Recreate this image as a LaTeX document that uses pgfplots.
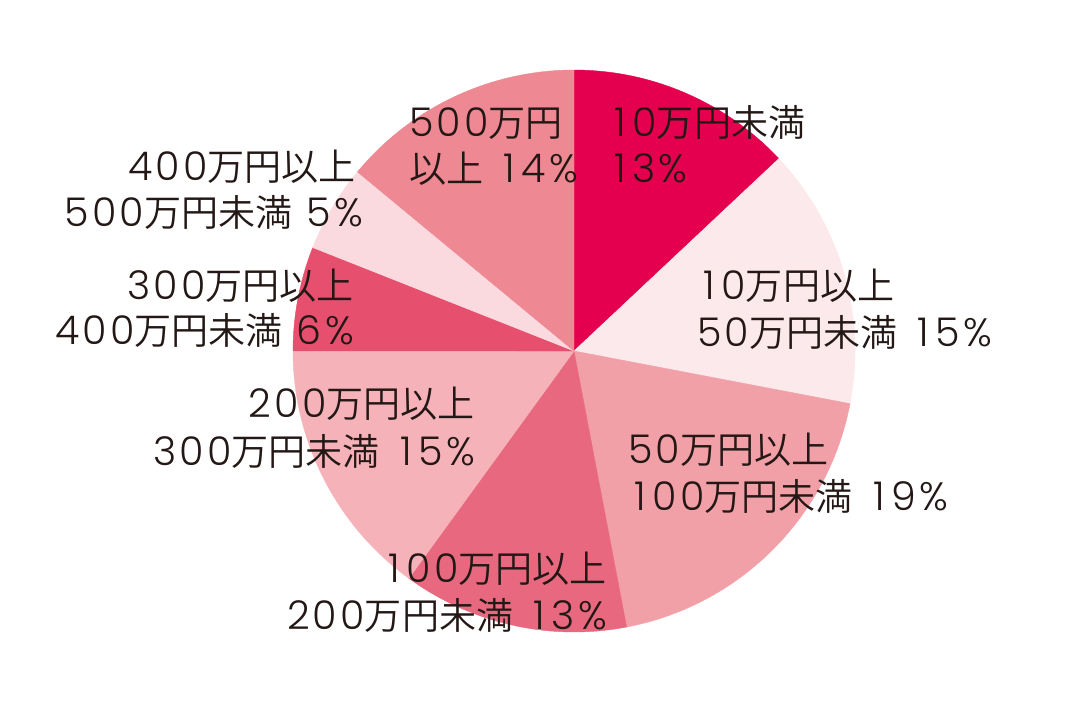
\documentclass[border=0pt]{standalone}
\usepackage{fontspec}
\IfFontExistsTF{Poppins Light}
  {\setmainfont{Poppins Light}[Scale=1.1, Numbers=Monospaced, LetterSpace=8]}
  {\setmainfont{Poppins}[Scale=1.1, Numbers=Monospaced, LetterSpace=8]}
\IfFontExistsTF{Noto Sans CJK JP DemiLight}
  {\newfontfamily\jp{Noto Sans CJK JP DemiLight}[Scale=1.03]}
  {\newfontfamily\jp{Noto Sans CJK JP}[Scale=1.03]}
% tabular "1": as wide as a "0"
\newcommand\one{\hbox to \fontcharwd\font`0{\hss 1\hss}}
\usepackage{pgfplots}
\pgfplotsset{compat=1.18}
\usepackage{pgfplotstable}

\definecolor{s1}{HTML}{E4004F}
\definecolor{s2}{HTML}{FCE9EB}
\definecolor{s3}{HTML}{F2A0A8}
\definecolor{s4}{HTML}{E8697F}
\definecolor{s5}{HTML}{F5B3B9}
\definecolor{s6}{HTML}{E74F6E}
\definecolor{s7}{HTML}{FADADF}
\definecolor{s8}{HTML}{EE8892}
\definecolor{ink}{HTML}{231815}

\tikzset{lab/.style={inner sep=0pt, text=ink, font=\fontsize{36bp}{44bp}\selectfont}}

% shares in percent, clockwise from 12 o'clock
\pgfplotstableread{
share col
13 s1
15 s2
19 s3
13 s4
15 s5
6  s6
5  s7
14 s8
}\pietable

\begin{document}
\begin{tikzpicture}
\begin{axis}[
  width=1084bp, height=709bp, scale only axis,
  xmin=0, xmax=1084, ymin=0, ymax=709, y dir=reverse,
  hide axis, clip=false,
]
\addplot[draw=none] coordinates {(0,0) (1084,709)};

\def\cum{0}
\pgfplotsforeachungrouped \i in {0,...,7}{%
  \pgfplotstablegetelem{\i}{share}\of\pietable \let\share\pgfplotsretval
  \pgfplotstablegetelem{\i}{col}\of\pietable \let\col\pgfplotsretval
  \pgfmathsetmacro\a{90-3.6*\cum}%
  \pgfmathsetmacro\b{90-3.6*(\cum+\share)}%
  \edef\temp{\noexpand\addplot[fill=\col, draw=\col, line width=0.4pt,
      domain=\b:\a, samples=80]
    ({574+281*cos(\noexpand\x)}, {351-281*sin(\noexpand\x)})
    -- (axis cs:574,351) -- cycle;}%
  \temp
  \pgfmathsetmacro\cum{\cum+\share}%
}

\node[lab, anchor=base west] at (axis cs:608,137) {\one0{\jp 万円未満}};
\node[lab, anchor=base west] at (axis cs:608,183) {\one3\%};

\node[lab, anchor=base west] at (axis cs:697,299) {\one0{\jp 万円以上}};
\node[lab, anchor=base west] at (axis cs:697,346) {50{\jp 万円未満} \one5\%};

\node[lab, anchor=base west] at (axis cs:628,463) {50{\jp 万円以上}};
\node[lab, anchor=base west] at (axis cs:628,510) {\one00{\jp 万円未満} \one9\%};

\node[lab, anchor=base east] at (axis cs:607,582) {\one00{\jp 万円以上}};
\node[lab, anchor=base east] at (axis cs:607,629) {200{\jp 万円未満} \one3\%};

\node[lab, anchor=base east] at (axis cs:475,417) {200{\jp 万円以上}};
\node[lab, anchor=base east] at (axis cs:475,465) {300{\jp 万円未満} \one5\%};

\node[lab, anchor=base east] at (axis cs:354,299) {300{\jp 万円以上}};
\node[lab, anchor=base east] at (axis cs:354,344) {400{\jp 万円未満} 6\%};

\node[lab, anchor=base east] at (axis cs:356,181) {400{\jp 万円以上}};
\node[lab, anchor=base east] at (axis cs:363,226) {500{\jp 万円未満} 5\%};

\node[lab, anchor=base west] at (axis cs:409,137) {500{\jp 万円}};
\node[lab, anchor=base west] at (axis cs:409,183) {{\jp 以上} \one4\%};
\end{axis}
\end{tikzpicture}
\end{document}
